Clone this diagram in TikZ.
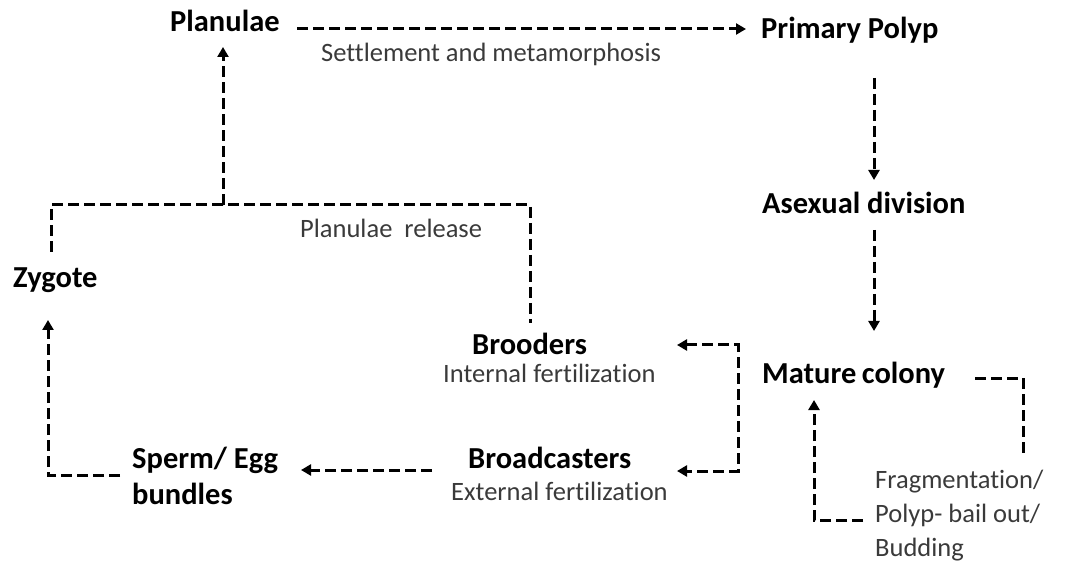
\documentclass[tikz,border=0pt]{standalone}
\usepackage{fontspec}
\setmainfont{Carlito}[RawFeature={-liga;-clig}]
\usetikzlibrary{arrows.meta}
\definecolor{subgray}{HTML}{3A3A3A}
\tikzset{
  big/.style={inner sep=0pt, anchor=base west, font=\fontsize{30.5}{36}\selectfont\bfseries, text=black},
  small/.style={inner sep=0pt, anchor=base west, font=\fontsize{26.5}{34}\selectfont, text=subgray},
  conn/.style={line width=3pt, dash pattern=on 11pt off 5pt, black},
  arr/.style={conn, -{Triangle[length=10pt,width=11pt]}},
}
\begin{document}
\begin{tikzpicture}[x=1pt,y=-1pt]
\useasboundingbox (0,0) rectangle (1080,564);
% nodes
\node[big] (plan) at (170,32) {Planulae};
\node[big] (prim) at (761,39) {Primary Polyp};
\node[small] (settle) at (321,62) {Settlement and metamorphosis};
\node[big] (asex) at (762,214) {Asexual division};
\node[small] (rel) at (300,238) {Planulae\ \ release};
\node[big] (zyg) at (13,288) {Zygote};
\node[big] (brood) at (472,355) {Brooders};
\node[small] (intf) at (443,382) {Internal fertilization};
\node[big] (mat) at (762,383) {Mature\hspace{0.18em}colony};
\node[big, align=left] (sperm) at (132,504) {Sperm/ Egg\\bundles};
\node[big] (broad) at (468,468) {Broadcasters};
\node[small] (extf) at (451,500) {External fertilization};
\node[small, align=left] (frag) at (875,556) {Fragmentation/\\Polyp- bail out/\\Budding};
% coordinates
\coordinate (p1) at (297,29);
\coordinate (p2) at (746,29);
\coordinate (j) at (223,205);
\coordinate (jt) at (223,47);
\coordinate (zl) at (51,252);
\coordinate (br) at (530,323);
\coordinate (pp1) at (874,78);
\coordinate (pp2) at (874,180);
\coordinate (as1) at (874,230);
\coordinate (as2) at (874,331);
\coordinate (z1) at (120,475);
\coordinate (z2) at (48,320);
\coordinate (b1) at (432,470);
\coordinate (b2) at (301,470);
\coordinate (k1) at (677,345);
\coordinate (k2) at (677,471);
\coordinate (m1) at (975,378);
\coordinate (m2) at (1023,454);
\coordinate (f1) at (863,520);
\coordinate (f2) at (814,400);
% connectors
\draw[arr] (p1) -- (p2);
\draw[arr] (j) -- (jt);
\draw[conn] (zl) |- (j) -| (br);
\draw[arr] (pp1) -- (pp2);
\draw[arr] (as1) -- (as2);
\draw[arr] (z1) -| (z2);
\draw[arr] (b1) -- (b2);
\draw[arr, {Triangle[length=10pt,width=11pt]}-{Triangle[length=10pt,width=11pt]}] (k1) -- (738,345) -- (738,471) -- (k2);
\draw[conn] (m1) -| (m2);
\draw[arr] (f1) -| (f2);
\end{tikzpicture}
\end{document}
